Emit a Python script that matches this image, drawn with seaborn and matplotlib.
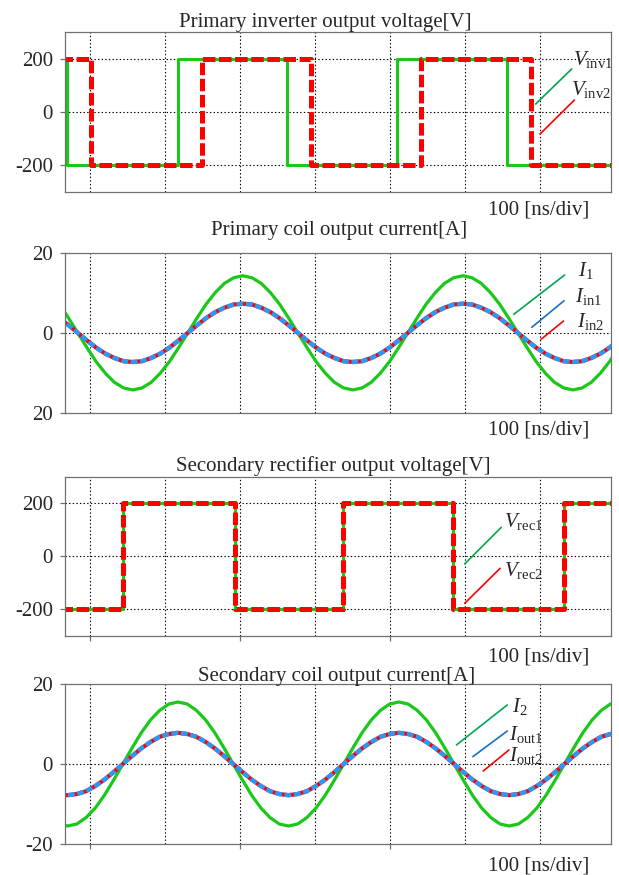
import numpy as np
import pandas as pd
import matplotlib
matplotlib.use("Agg")
import matplotlib.pyplot as plt
import seaborn as sns
from matplotlib.lines import Line2D

# ---------------- data ----------------
# Primary inverter output voltage [V] (step waveforms, switching times in ns)
vinv1_time = [60, 70, 217, 363, 509, 655, 800]
vinv1_volt = [200, -200, 200, -200, 200, -200, -200]
vinv2_time = [60, 102, 249, 395, 541, 687, 800]
vinv2_volt = [200, -200, 200, -200, 200, -200, -200]

# Secondary rectifier output voltage [V] (Vrec1 == Vrec2)
vrec_time = [60, 144, 293, 437, 584, 731, 800]
vrec_volt = [-200, 200, -200, 200, -200, 200, 200]

# Primary coil output current [A]
pri_time = [59.6, 71.8, 84.0, 96.2, 108.4, 120.6, 132.8, 145.0, 157.3, 169.5,
            181.7, 193.9, 206.1, 218.3, 230.5, 242.7, 254.9, 267.1, 279.3, 291.5,
            303.8, 316.0, 328.2, 340.4, 352.6, 364.8, 377.0, 389.2, 401.4, 413.6,
            425.8, 438.0, 450.3, 462.5, 474.7, 486.9, 499.1, 511.3, 523.5, 535.7,
            547.9, 560.1, 572.3, 584.5, 596.8, 609.0, 621.2, 633.4, 645.6, 657.8,
            670.0, 682.2, 694.4, 706.6, 718.8, 731.0, 743.3, 755.5, 767.7, 779.9,
            792.1, 804.3]
i1_vals = [7.2, 3.7,
           0, -3.7, -7.2, -10.1, -12.4, -13.8, -14.3, -13.8, -12.4, -10.1, -7.2, -3.7,
           0, 3.7, 7.2, 10.1, 12.4, 13.8, 14.3, 13.8, 12.4, 10.1, 7.2, 3.7,
           0, -3.7, -7.2, -10.1, -12.4, -13.8, -14.3, -13.8, -12.4, -10.1, -7.2, -3.7,
           0, 3.7, 7.2, 10.1, 12.4, 13.8, 14.3, 13.8, 12.4, 10.1, 7.2, 3.7,
           0, -3.7, -7.2, -10.1, -12.4, -13.8, -14.3, -13.8, -12.4, -10.1, -7.2, -3.7]
iin_vals = [3.7, 1.9,
            0, -1.9, -3.7, -5.2, -6.3, -7.1, -7.3, -7.1, -6.3, -5.2, -3.7, -1.9,
            0, 1.9, 3.7, 5.2, 6.3, 7.1, 7.3, 7.1, 6.3, 5.2, 3.7, 1.9,
            0, -1.9, -3.7, -5.2, -6.3, -7.1, -7.3, -7.1, -6.3, -5.2, -3.7, -1.9,
            0, 1.9, 3.7, 5.2, 6.3, 7.1, 7.3, 7.1, 6.3, 5.2, 3.7, 1.9,
            0, -1.9, -3.7, -5.2, -6.3, -7.1, -7.3, -7.1, -6.3, -5.2, -3.7, -1.9]

# Secondary coil output current [A]
sec_time = [58.3, 70.5, 82.8, 95.0, 107.3, 119.5, 131.8, 144.0, 156.3, 168.5,
            180.8, 193.0, 205.3, 217.5, 229.8, 242.0, 254.3, 266.5, 278.8, 291.0,
            303.3, 315.5, 327.8, 340.0, 352.3, 364.5, 376.8, 389.0, 401.3, 413.5,
            425.8, 438.0, 450.3, 462.5, 474.8, 487.0, 499.3, 511.5, 523.8, 536.0,
            548.3, 560.5, 572.8, 585.0, 597.3, 609.5, 621.8, 634.0, 646.3, 658.5,
            670.8, 683.0, 695.3, 707.5, 719.8, 732.0, 744.3, 756.5, 768.8, 781.0,
            793.3, 805.5]
i2_vals = [-15.0, -15.5, -15.0, -13.4, -11.0, -7.8, -4.0,
           0, 4.0, 7.8, 11.0, 13.4, 15.0, 15.5, 15.0, 13.4, 11.0, 7.8, 4.0,
           0, -4.0, -7.8, -11.0, -13.4, -15.0, -15.5, -15.0, -13.4, -11.0, -7.8, -4.0,
           0, 4.0, 7.8, 11.0, 13.4, 15.0, 15.5, 15.0, 13.4, 11.0, 7.8, 4.0,
           0, -4.0, -7.8, -11.0, -13.4, -15.0, -15.5, -15.0, -13.4, -11.0, -7.8, -4.0,
           0, 4.0, 7.8, 11.0, 13.4, 15.0, 15.5]
iout_vals = [-7.5, -7.8, -7.5, -6.8, -5.5, -3.9, -2.0,
             0, 2.0, 3.9, 5.5, 6.8, 7.5, 7.8, 7.5, 6.8, 5.5, 3.9, 2.0,
             0, -2.0, -3.9, -5.5, -6.8, -7.5, -7.8, -7.5, -6.8, -5.5, -3.9, -2.0,
             0, 2.0, 3.9, 5.5, 6.8, 7.5, 7.8, 7.5, 6.8, 5.5, 3.9, 2.0,
             0, -2.0, -3.9, -5.5, -6.8, -7.5, -7.8, -7.5, -6.8, -5.5, -3.9, -2.0,
             0, 2.0, 3.9, 5.5, 6.8, 7.5, 7.8]

titles = ["Primary inverter output voltage[V]",
          "Primary coil output current[A]",
          "Secondary rectifier output voltage[V]",
          "Secondary coil output current[A]"]
volt_ticks = [-200, 0, 200]
volt_ticklabels = ["-200", "0", "200"]
pri_ticks = [-20, 0, 20]
pri_ticklabels = ["20", "0", "20"]
sec_ticks = [-20, 0, 20]
sec_ticklabels = ["-20", "0", "20"]
grid_x = [100, 200, 300, 400, 500, 600, 700]
scale_label = "100 [ns/div]"

# ---------------- style ----------------
sns.set_theme(style="white")
plt.rcParams["font.family"] = ["Liberation Serif", "DejaVu Serif"]
plt.rcParams["mathtext.fontset"] = "custom"
plt.rcParams["mathtext.rm"] = "Liberation Serif"
plt.rcParams["mathtext.it"] = "Liberation Serif:italic"
plt.rcParams["lines.scale_dashes"] = False

FS = 15
GREEN = "#19c819"
RED = "#ff0000"
BLUE = "#2f96f2"
LG_GREEN = "#00a651"
LG_BLUE = "#1670c4"
LG_RED = "#ff0000"
SPINE = "#707070"

W, H = 619, 875
fig = plt.figure(figsize=(W / 100, H / 100), dpi=100)
fig.patch.set_facecolor("white")

L, R = 65, 611
panels_px = [(32, 192), (253, 412.7), (476.7, 636), (684, 844)]
axes = []
for top, bot in panels_px:
    ax = fig.add_axes([L / W, 1 - bot / H, (R - L) / W, (bot - top) / H])
    axes.append(ax)

XLIM = (67, 794)


def style_axes(ax, yticks, ylabels, ylim, ygrid_only_zero, bottom_ticks):
    ax.set_facecolor("white")
    ax.set_xlim(*XLIM)
    ax.set_ylim(*ylim)
    ax.set_axisbelow(True)
    for s in ax.spines.values():
        s.set_color(SPINE)
        s.set_linewidth(0.9)
        s.set_visible(True)
    ax.set_yticks(yticks)
    ax.set_yticklabels(ylabels, fontsize=FS)
    ax.tick_params(axis="y", which="major", left=True, length=3.6, width=0.9,
                   color=SPINE, pad=5, direction="out")
    if bottom_ticks:
        ax.set_xticks([100, 300, 500])
        ax.set_xticks([200, 400, 600, 700], minor=True)
        ax.tick_params(axis="x", which="major", bottom=True, length=3.8,
                       width=0.9, color=SPINE, direction="out", labelbottom=False)
        ax.tick_params(axis="x", which="minor", bottom=False, length=0)
    else:
        ax.set_xticks(grid_x)
        ax.tick_params(axis="x", which="major", bottom=False, length=0,
                       labelbottom=False)
    ax.grid(True, which="both", axis="x", color="black", linestyle=(0, (1, 1.6)),
            linewidth=0.8)
    ax.grid(True, which="major", axis="y", color="black", linestyle=(0, (1, 1.6)),
            linewidth=0.8)
    if ygrid_only_zero:
        for val, gl in zip(yticks, ax.get_ygridlines()):
            if val != 0:
                gl.set_visible(False)
    ax.set_xlabel("")
    ax.set_ylabel("")


def legend_entry(ax, p0, p1, color, label, tpos):
    ax.add_line(Line2D([p0[0], p1[0]], [p0[1], p1[1]], transform=ax.transAxes,
                       color=color, linewidth=1.2, clip_on=False, zorder=6))
    ax.text(tpos[0], tpos[1], label, transform=ax.transAxes, fontsize=FS,
            ha="left", va="baseline", zorder=6, clip_on=False)


# ---------------- Panel 1 ----------------
ax = axes[0]
df1 = pd.DataFrame({"t": vinv1_time, "v": vinv1_volt})
df2 = pd.DataFrame({"t": vinv2_time, "v": vinv2_volt})
sns.lineplot(data=df1, x="t", y="v", ax=ax, color=GREEN, linewidth=2.2,
             drawstyle="steps-post", estimator=None, sort=False)
sns.lineplot(data=df2, x="t", y="v", ax=ax, color=RED, linewidth=3.6,
             drawstyle="steps-post", estimator=None, sort=False)
ax.lines[-1].set_dashes([9.0, 2.6])
style_axes(ax, volt_ticks, volt_ticklabels, (-300, 300), False, False)
legend_entry(ax, (0.862, 0.55), (0.928, 0.769), LG_GREEN,
             r"$V_{\mathrm{inv1}}$", (0.930, 0.794))
legend_entry(ax, (0.870, 0.3625), (0.933, 0.575), LG_RED,
             r"$V_{\mathrm{inv2}}$", (0.926, 0.606))

# ---------------- Panel 2 ----------------
ax = axes[1]
dfp = pd.DataFrame({"t": pri_time, "i1": i1_vals, "iin1": iin_vals, "iin2": iin_vals})
sns.lineplot(data=dfp, x="t", y="i1", ax=ax, color=GREEN, linewidth=2.3,
             estimator=None, sort=False)
sns.lineplot(data=dfp, x="t", y="iin2", ax=ax, color=RED, linewidth=3.0,
             estimator=None, sort=False)
sns.lineplot(data=dfp, x="t", y="iin1", ax=ax, color=BLUE, linewidth=3.2,
             estimator=None, sort=False)
ax.lines[-1].set_dashes([5.0, 1.8])
style_axes(ax, pri_ticks, pri_ticklabels, (-20, 20), True, False)
legend_entry(ax, (0.822, 0.616), (0.915, 0.862), LG_GREEN,
             r"$I_{1}$", (0.940, 0.856))
legend_entry(ax, (0.855, 0.535), (0.914, 0.701), LG_BLUE,
             r"$I_{\mathrm{in1}}$", (0.934, 0.695))
legend_entry(ax, (0.872, 0.460), (0.913, 0.574), LG_RED,
             r"$I_{\mathrm{in2}}$", (0.937, 0.535))

# ---------------- Panel 3 ----------------
ax = axes[2]
dfr = pd.DataFrame({"t": vrec_time, "v": vrec_volt})
sns.lineplot(data=dfr, x="t", y="v", ax=ax, color=GREEN, linewidth=2.2,
             drawstyle="steps-post", estimator=None, sort=False)
sns.lineplot(data=dfr, x="t", y="v", ax=ax, color=RED, linewidth=3.6,
             drawstyle="steps-post", estimator=None, sort=False)
ax.lines[-1].set_dashes([9.0, 2.6])
style_axes(ax, volt_ticks, volt_ticklabels, (-300, 300), False, True)
legend_entry(ax, (0.732, 0.452), (0.799, 0.682), LG_GREEN,
             r"$V_{\mathrm{rec1}}$", (0.804, 0.682))
legend_entry(ax, (0.732, 0.205), (0.797, 0.425), LG_RED,
             r"$V_{\mathrm{rec2}}$", (0.804, 0.377))

# ---------------- Panel 4 ----------------
ax = axes[3]
dfs = pd.DataFrame({"t": sec_time, "i2": i2_vals, "iout1": iout_vals, "iout2": iout_vals})
sns.lineplot(data=dfs, x="t", y="i2", ax=ax, color=GREEN, linewidth=2.3,
             estimator=None, sort=False)
sns.lineplot(data=dfs, x="t", y="iout2", ax=ax, color=RED, linewidth=3.0,
             estimator=None, sort=False)
sns.lineplot(data=dfs, x="t", y="iout1", ax=ax, color=BLUE, linewidth=3.2,
             estimator=None, sort=False)
ax.lines[-1].set_dashes([5.0, 1.8])
style_axes(ax, sec_ticks, sec_ticklabels, (-20, 20), True, True)
legend_entry(ax, (0.717, 0.619), (0.810, 0.869), LG_GREEN,
             r"$I_{2}$", (0.819, 0.823))
legend_entry(ax, (0.747, 0.546), (0.810, 0.706), LG_BLUE,
             r"$I_{\mathrm{out1}}$", (0.813, 0.650))
legend_entry(ax, (0.766, 0.456), (0.813, 0.5875), LG_RED,
             r"$I_{\mathrm{out2}}$", (0.813, 0.519))

# ---------------- titles and scale labels ----------------
title_pos = [(325, 27), (339, 235), (333, 470.5), (337, 680.5)]
scale_pos = [215, 435, 661.5, 870]
for (tx, ty), title, sy in zip(title_pos, titles, scale_pos):
    fig.text(tx / W, 1 - ty / H, title, ha="center", va="baseline", fontsize=FS)
    fig.text(589 / W, 1 - sy / H, scale_label, ha="right", va="baseline", fontsize=FS)

fig.savefig("out.png", dpi=100, facecolor="white")
